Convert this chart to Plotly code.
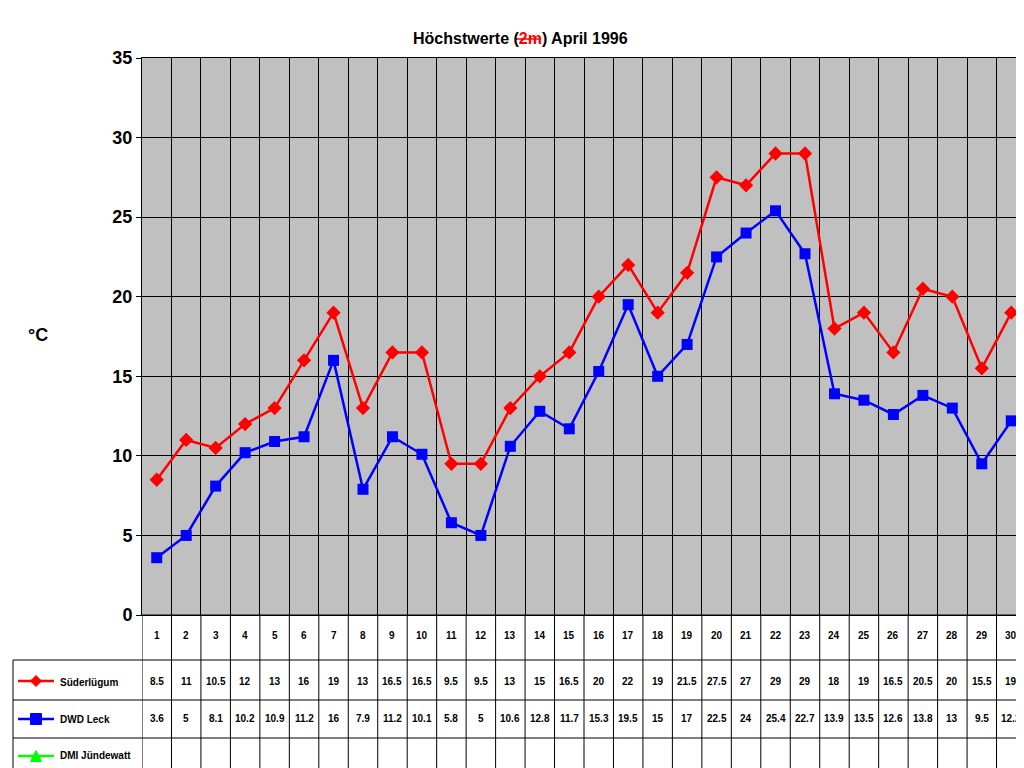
import plotly.graph_objects as go

days = list(range(1, 31))
suder = [8.5,11,10.5,12,13,16,19,13,16.5,16.5,9.5,9.5,13,15,16.5,20,22,19,21.5,27.5,27,29,29,18,19,16.5,20.5,20,15.5,19]
leck = [3.6,5,8.1,10.2,10.9,11.2,16,7.9,11.2,10.1,5.8,5,10.6,12.8,11.7,15.3,19.5,15,17,22.5,24,25.4,22.7,13.9,13.5,12.6,13.8,13,9.5,12.2]
leck_lbl = ["3.6","5","8.1","10.2","10.9","11.2","16","7.9","11.2","10.1","5.8","5","10.6","12.8","11.7","15.3","19.5","15","17","22.5","24","25.4","22.7","13.9","13.5","12.6","13.8","13","9.5","12.2"]
names = ["Süderlügum", "DWD Leck", "DMI Jündewatt"]
yticks = [0, 5, 10, 15, 20, 25, 30, 35]

L, R, T, B = 134, 1018, 50, 607
W, H = R - L, B - T
def px(x): return (x - L) / W
def py(y): return (B - y) / H

fig = go.Figure()
fig.add_trace(go.Scatter(x=days, y=suder, mode="lines+markers", line=dict(color="#ff0000", width=2.5),
                         marker=dict(symbol="diamond", size=11, color="#ff0000"), name=names[0]))
fig.add_trace(go.Scatter(x=days, y=leck, mode="lines+markers", line=dict(color="#0000ff", width=2.5),
                         marker=dict(symbol="square", size=11, color="#0000ff"), name=names[1]))

shapes, ann = [], []
rows = [607, 652, 692, 730, 762]
# horizontal table lines
shapes.append(dict(type="line", xref="paper", yref="paper", x0=0, x1=1, y0=py(rows[1]) if False else py(607), y1=py(607), line=dict(color="black", width=1)))
for r in rows[1:]:
    shapes.append(dict(type="line", xref="paper", yref="paper", x0=px(5), x1=1, y0=py(r), y1=py(r), line=dict(color="black", width=1)))
shapes.append(dict(type="line", xref="paper", yref="paper", x0=px(5), x1=px(5), y0=py(652), y1=py(762), line=dict(color="black", width=1)))
for i in range(31):
    shapes.append(dict(type="line", xref="x", yref="paper", x0=i + 0.5, x1=i + 0.5, y0=py(607), y1=py(762), line=dict(color="black", width=1)))
# legend keys
def key(yc, color, sym):
    shapes.append(dict(type="line", xref="paper", yref="paper", x0=px(10), x1=px(46), y0=py(yc), y1=py(yc), line=dict(color=color, width=2.5)))
    cx, s = 28, 5.5
    if sym == "diamond":
        path = f"M{px(cx-s)},{py(yc)} L{px(cx)},{py(yc-s)} L{px(cx+s)},{py(yc)} L{px(cx)},{py(yc+s)} Z"
    elif sym == "square":
        path = f"M{px(cx-s)},{py(yc-s)} L{px(cx+s)},{py(yc-s)} L{px(cx+s)},{py(yc+s)} L{px(cx-s)},{py(yc+s)} Z"
    else:
        path = f"M{px(cx-s)},{py(yc+s)} L{px(cx+s)},{py(yc+s)} L{px(cx)},{py(yc-s)} Z"
    shapes.append(dict(type="path", xref="paper", yref="paper", path=path, fillcolor=color, line=dict(color=color, width=1)))
key(673, "#ff0000", "diamond")
key(711, "#0000ff", "square")
key(748, "#00ff00", "triangle")

f = dict(family="Liberation Sans", size=10, color="black")
for d in days:
    ann.append(dict(x=d, y=py(635), xref="x", yref="paper", text=f"<b>{d}</b>", showarrow=False, font=f))
    ann.append(dict(x=d, y=py(681), xref="x", yref="paper", text=f"<b>{suder[d-1]:g}</b>", showarrow=False, font=f))
    ann.append(dict(x=d, y=py(718), xref="x", yref="paper", text=f"<b>{leck_lbl[d-1]}</b>", showarrow=False, font=f))
for n, yc in zip(names, [682, 719, 755]):
    ann.append(dict(x=px(50), y=py(yc), xref="paper", yref="paper", text=f"<b>{n}</b>", showarrow=False, xanchor="left", font=f))
ann.append(dict(x=px(18), y=py(327), xref="paper", yref="paper", text="<b>°C</b>", showarrow=False, font=dict(family="Liberation Sans", size=18)))
ann.append(dict(x=px(512), y=py(20), xref="paper", yref="paper",
                text="<b>Höchstwerte (<span style='color:#ff0000'>2m</span>) April 1996</b>", showarrow=False,
                font=dict(family="Liberation Sans", size=16, color="black")))
shapes.append(dict(type="line", xref="paper", yref="paper", x0=px(508), x1=px(533), y0=py(31), y1=py(31), line=dict(color="#ff0000", width=1.5)))

fig.update_layout(
    width=1024, height=768, margin=dict(l=L, r=1024 - R, t=T, b=768 - B),
    paper_bgcolor="white", plot_bgcolor="#c0c0c0", showlegend=False,
    shapes=shapes, annotations=ann,
    font=dict(family="Liberation Sans", color="black"),
    xaxis=dict(range=[0.5, 30.5], tickvals=[i + 0.5 for i in range(31)], showticklabels=False,
               showgrid=True, gridcolor="black", gridwidth=1, zeroline=False, showline=True, linecolor="black", mirror=True, ticks=""),
    yaxis=dict(range=[0, 35], tickvals=yticks, ticktext=[f"<b>{v}</b>" for v in yticks], tickfont=dict(size=18),
               showgrid=True, gridcolor="black", gridwidth=1, zeroline=False, showline=True, linecolor="black", mirror=True,
               ticks="outside", ticklen=5, tickcolor="black"),
)
fig.write_html("out.html")
